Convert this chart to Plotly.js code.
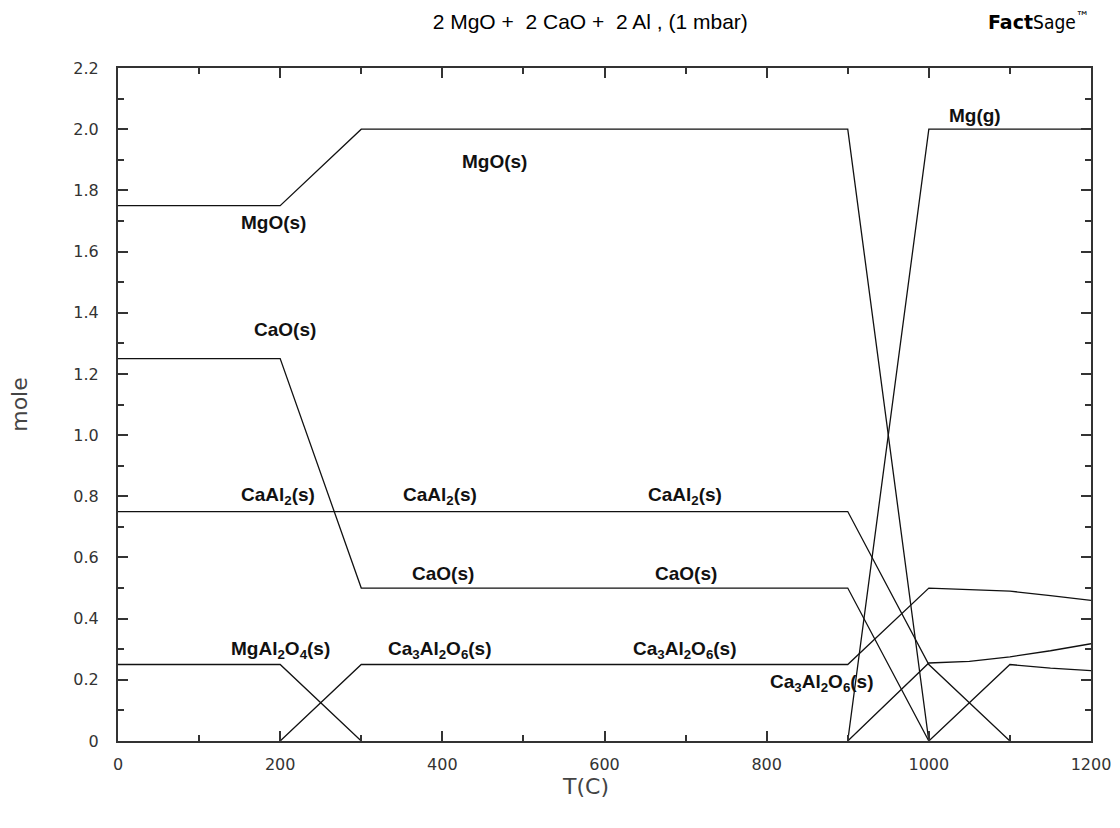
<!DOCTYPE html>
<html>
<head>
<meta charset="utf-8">
<script src="https://cdn.plot.ly/plotly-3.0.1.min.js"></script>
<style>html,body{margin:0;padding:0;background:#fff;}#chart{width:1120px;height:828px;}</style>
</head>
<body>
<div id="chart"></div>
<script>
// Temperature (C) and amount (mole) for each phase
const T_MgO = [0, 200, 300, 900, 1000];
const MgO = [1.75, 1.75, 2.0, 2.0, 0];

const T_Mgg = [900, 1000, 1200];
const Mgg = [0, 2.0, 2.0];

const T_CaO = [0, 200, 300, 900, 1000];
const CaO = [1.25, 1.25, 0.5, 0.5, 0];

const T_CaAl2 = [0, 900, 1000, 1100];
const CaAl2 = [0.75, 0.75, 0.25, 0];

const T_MgAl2O4 = [0, 200, 300];
const MgAl2O4 = [0.25, 0.25, 0];

const T_Ca3Al2O6 = [200, 300, 900, 1000, 1050, 1100, 1150, 1200];
const Ca3Al2O6 = [0, 0.25, 0.25, 0.5, 0.495, 0.49, 0.475, 0.46];

const T_CaAl2O4 = [900, 1000, 1050, 1100, 1150, 1200];
const CaAl2O4 = [0, 0.255, 0.26, 0.275, 0.295, 0.318];

const T_PhaseX = [1000, 1100, 1150, 1200];
const PhaseX = [0, 0.25, 0.238, 0.23];

const xTicks = [0, 200, 400, 600, 800, 1000, 1200];
const xTickText = ["0", "200", "400", "600", "800", "1000", "1200"];
const yTicks = [0, 0.2, 0.4, 0.6, 0.8, 1.0, 1.2, 1.4, 1.6, 1.8, 2.0, 2.2];
const yTickText = ["0", "0.2", "0.4", "0.6", "0.8", "1.0", "1.2", "1.4", "1.6", "1.8", "2.0", "2.2"];

// Labels drawn on the chart: [text, T, mole]
const labels = [
  ["MgO(s)", 192, 1.695],
  ["MgO(s)", 464, 1.895],
  ["Mg(g)", 1057, 2.045],
  ["CaO(s)", 206, 1.345],
  ["CaAl<sub>2</sub>(s)", 197, 0.80],
  ["CaAl<sub>2</sub>(s)", 397, 0.80],
  ["CaAl<sub>2</sub>(s)", 699, 0.80],
  ["CaO(s)", 401, 0.548],
  ["CaO(s)", 700, 0.548],
  ["MgAl<sub>2</sub>O<sub>4</sub>(s)", 200, 0.298],
  ["Ca<sub>3</sub>Al<sub>2</sub>O<sub>6</sub>(s)", 397, 0.298],
  ["Ca<sub>3</sub>Al<sub>2</sub>O<sub>6</sub>(s)", 699, 0.298],
  ["Ca<sub>3</sub>Al<sub>2</sub>O<sub>6</sub>(s)", 868, 0.19]
];

const series = [
  [T_MgO, MgO], [T_Mgg, Mgg], [T_CaO, CaO], [T_CaAl2, CaAl2],
  [T_MgAl2O4, MgAl2O4], [T_Ca3Al2O6, Ca3Al2O6], [T_CaAl2O4, CaAl2O4], [T_PhaseX, PhaseX]
];

const traces = series.map(s => ({
  x: s[0], y: s[1], type: 'scatter', mode: 'lines',
  line: {color: '#111', width: 1.3}, hoverinfo: 'skip', showlegend: false, cliponaxis: true
}));

const annotations = labels.map(l => ({
  text: '<b>' + l[0] + '</b>', x: l[1], y: l[2], xref: 'x', yref: 'y',
  showarrow: false, font: {family: 'Liberation Sans, Arial, sans-serif', size: 19, color: '#111'}
}));

annotations.push({
  text: '<b>Fact</b><span style="font-family:Liberation Sans Narrow, DejaVu Sans Condensed, sans-serif">Sage</span><sup>™</sup>',
  xref: 'paper', yref: 'paper', x: 1.0, y: 1.07,
  xanchor: 'right', yanchor: 'middle', showarrow: false,
  font: {family: 'DejaVu Sans, sans-serif', size: 19, color: '#000'}
});

annotations.push({
  text: 'T(C)', xref: 'paper', yref: 'paper', x: 0.48, y: -0.068,
  xanchor: 'center', yanchor: 'middle', showarrow: false,
  font: {family: 'DejaVu Sans, sans-serif', size: 22, color: '#444'}
});

const axisCommon = {
  showgrid: false, zeroline: false, showline: true, linecolor: '#333', linewidth: 2,
  mirror: 'ticks', ticks: 'inside', tickcolor: '#333', tickwidth: 2, ticklen: 10,
  tickfont: {family: 'DejaVu Sans, sans-serif', size: 16, color: '#333'},
  fixedrange: true
};

const layout = {
  width: 1120, height: 828,
  margin: {l: 118, r: 29, t: 68, b: 87},
  paper_bgcolor: '#fff', plot_bgcolor: '#fff',
  title: {text: '2 MgO +  2 CaO +  2 Al , (1 mbar)', x: 0.527, xanchor: 'center', y: 0.974, yanchor: 'middle',
          font: {family: 'Liberation Sans, Arial, sans-serif', size: 21, color: '#000'}},
  xaxis: Object.assign({}, axisCommon, {
    range: [0, 1200], tickvals: xTicks, ticktext: xTickText, ticklabelstandoff: 8,
    minor: {ticks: 'inside', ticklen: 6, tickwidth: 2, tickcolor: '#333', dtick: 100, tick0: 0, showgrid: false}
  }),
  yaxis: Object.assign({}, axisCommon, {
    range: [0, 2.2], tickvals: yTicks, ticktext: yTickText, ticklabelstandoff: 14,
    minor: {ticks: 'inside', ticklen: 6, tickwidth: 2, tickcolor: '#333', dtick: 0.1, tick0: 0, showgrid: false},
    title: {text: 'mole', standoff: 40, font: {family: 'DejaVu Sans, sans-serif', size: 22, color: '#444'}}
  }),
  annotations: annotations,
  hovermode: false
};

Plotly.newPlot('chart', traces, layout, {displayModeBar: false, staticPlot: true});
</script>
</body>
</html>
